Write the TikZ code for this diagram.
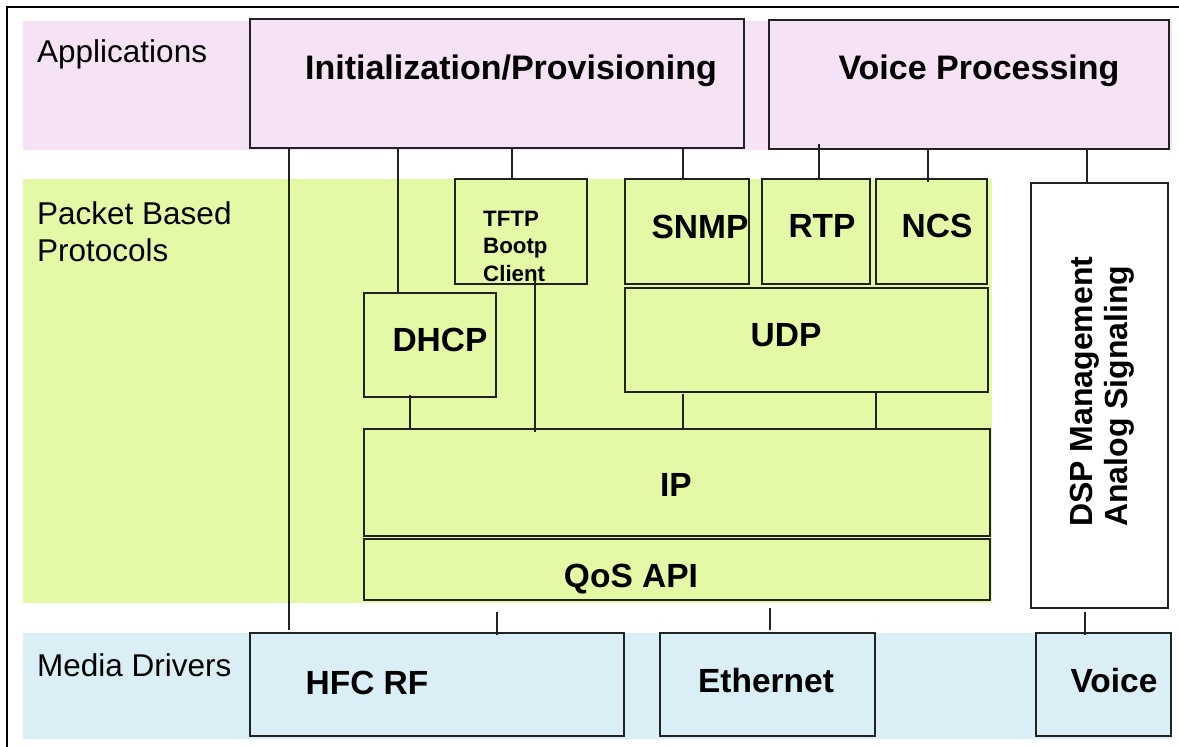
\documentclass[tikz,border=0pt]{standalone}
\usepackage{fontspec}
\setmainfont{Liberation Sans}
\usetikzlibrary{fit,calc}
\definecolor{appbg}{RGB}{245,226,245}
\definecolor{pktbg}{RGB}{227,249,166}
\definecolor{medbg}{RGB}{218,239,245}
\definecolor{edgec}{RGB}{34,34,34}
\begin{document}
\begin{tikzpicture}[x=1pt,y=-1pt,
  box/.style={draw=edgec, line width=1.3pt, inner sep=0pt, outer sep=0pt},
  appbox/.style={box, fill=appbg},
  pktbox/.style={box, fill=pktbg},
  medbox/.style={box, fill=medbg},
  plainbox/.style={box, fill=white},
  conn/.style={draw=edgec, line width=1.2pt},
  biglbl/.style={font=\fontsize{34}{40}\selectfont\bfseries, inner sep=0pt, anchor=base},
  lbl/.style={font=\fontsize{33.5}{40}\selectfont\bfseries, inner sep=0pt, anchor=base},
  layerlbl/.style={font=\fontsize{31.5}{37}\selectfont, inner sep=0pt, anchor=base west, align=left},
  smalllbl/.style={font=\fontsize{22.3}{27.5}\selectfont\bfseries, inner sep=0pt, anchor=base west, align=left},
  vertlbl/.style={font=\fontsize{32}{35}\selectfont\bfseries, inner sep=0pt, anchor=base west, rotate=90},
]
\useasboundingbox (0,0) rectangle (1179,747);
\fill[white] (0,0) rectangle (1179,747);

% outer frame
\draw[line width=2.6pt, black] (7,750) -- (7,7) -- (1182,7);

% layer bands
\fill[appbg] (23,21) rectangle (1172,150);
\fill[pktbg] (23,179) rectangle (992,603);
\fill[medbg] (23,633) rectangle (1172,739);

% layer names (base anchor of a multi-line node = last line's baseline)
\node[layerlbl] (lapp) at (37,62) {Applications};
\node[layerlbl] (lpkt) at (37,261) {Packet Based\\Protocols};
\node[layerlbl] (lmed) at (37,676) {Media Drivers};

% boxes
\node[appbox, fit={(250,19) (744,148)}] (init) {};
\node[appbox, fit={(769,20) (1169,149)}] (vproc) {};
\node[pktbox, fit={(455,179) (587,284)}] (tftp) {};
\node[pktbox, fit={(625,179) (749,284)}] (snmp) {};
\node[pktbox, fit={(762,179) (870,284)}] (rtp) {};
\node[pktbox, fit={(876,179) (987,284)}] (ncs) {};
\node[plainbox, fit={(1031,183) (1168,608)}] (dsp) {};
\node[pktbox, fit={(364,293) (496,397)}] (dhcp) {};
\node[pktbox, fit={(625,288) (988,392)}] (udp) {};
\node[pktbox, fit={(364,429) (990,536)}] (ip) {};
\node[pktbox, fit={(364,539) (990,600)}] (qos) {};
\node[medbox, fit={(250,633) (624,736)}] (hfc) {};
\node[medbox, fit={(660,633) (875,736)}] (eth) {};
\node[medbox, fit={(1036,633) (1171,736)}] (voice) {};

% box labels
\node[biglbl] (tinit) at (511,79) {Initialization/Provisioning};
\node[biglbl] (tvproc) at (979,79) {Voice Processing};
\node[smalllbl] (ttftp) at (483,281) {TFTP\\Bootp\\Client};
\node[lbl] (tsnmp) at (700,238) {SNMP};
\node[lbl] (trtp) at (822,237) {RTP};
\node[lbl] (tncs) at (937,237) {NCS};
\node[lbl] (tdhcp) at (440,351) {DHCP};
\node[lbl] (tudp) at (786,346) {UDP};
\node[lbl] (tip) at (676,496) {IP};
\node[lbl] (tqos) at (631,587) {QoS API};
\node[lbl] (thfc) at (367,694) {HFC RF};
\node[lbl] (teth) at (766,692) {Ethernet};
\node[lbl] (tvoice) at (1114,692) {Voice};
\node[vertlbl] (tdsp1) at (1092,527) {DSP Management};
\node[vertlbl] (tdsp2) at (1127,527) {Analog Signaling};

% connector columns
\coordinate (xa) at (289,0);
\coordinate (xb) at (398,0);
\coordinate (xc) at (512,0);
\coordinate (xd) at (683,0);
\coordinate (xe) at (819,0);
\coordinate (xf) at (928,0);
\coordinate (xg) at (1087,0);
\coordinate (xh) at (410,0);
\coordinate (xi) at (535,0);
\coordinate (xj) at (876,0);
\coordinate (xk) at (497,0);
\coordinate (xl) at (770,0);
\coordinate (xm) at (1085,0);

% connectors
\draw[conn] (init.south -| xa) -- ($(hfc.north -| xa)+(0,-3)$);
\draw[conn] (init.south -| xb) -- (dhcp.north -| xb);
\draw[conn] (init.south -| xc) -- (tftp.north -| xc);
\draw[conn] (init.south -| xd) -- (snmp.north -| xd);
\draw[conn] ($(vproc.south -| xe)+(0,-5)$) -- (rtp.north -| xe);
\draw[conn] (vproc.south -| xf) -- ($(ncs.north -| xf)+(0,3)$);
\draw[conn] (vproc.south -| xg) -- (dsp.north -| xg);
\draw[conn] ($(dhcp.south -| xh)+(0,-2)$) -- (ip.north -| xh);
\draw[conn] ($(tftp.south -| xi)+(0,-4)$) -- ($(ip.north -| xi)+(0,3)$);
\draw[conn] ($(udp.south -| xd)+(0,2)$) -- (ip.north -| xd);
\draw[conn] ($(udp.south -| xj)+(0,1)$) -- (ip.north -| xj);
\coordinate (qosfree) at ($(qos.south -| xk)+(0,12)$);
\draw[conn] (qosfree) -- ($(hfc.north -| xk)+(0,2)$);
\draw[conn] ($(qos.south -| xl)+(0,8)$) -- ($(eth.north -| xl)+(0,-3)$);
\draw[conn] ($(dsp.south -| xm)+(0,4)$) -- ($(voice.north -| xm)+(0,2)$);
\end{tikzpicture}
\end{document}
